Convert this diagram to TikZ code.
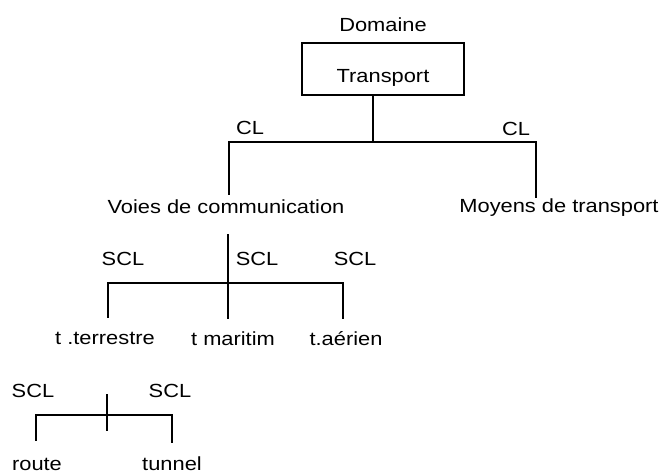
\documentclass[tikz,border=0pt]{standalone}
\usepackage{fontspec}
\setmainfont{Liberation Sans}[FakeStretch=1.15]
\begin{document}
\begin{tikzpicture}[x=1bp,y=-1bp,
  lbl/.style={anchor=base,inner sep=0pt,font=\fontsize{19bp}{22bp}\selectfont},
  link/.style={line width=2bp,line cap=rect}]
\useasboundingbox (0,0) rectangle (665,475);
% top: domain and its framed topic
\node[lbl] (domaine) at (383,32) {Domaine};
\node[draw,line width=2bp,minimum width=162bp,minimum height=52bp,inner sep=0pt] (box) at (383,69) {};
\node[lbl] (transport) at (383,83) {Transport};
% first split (CL)
\coordinate (j1) at (373,142);
\coordinate (c1l) at (229,142);
\coordinate (c1r) at (536,142);
\coordinate (e1l) at (229,194);
\coordinate (e1r) at (536,197);
\draw[link] (box.south -| j1) -- (j1);
\draw[link] (e1l) -- (c1l) -- (c1r) -- (e1r);
\node[lbl] (cl1) at (250,135) {CL};
\node[lbl] (cl2) at (516,136) {CL};
\node[lbl] (voies) at (226,214) {Voies de communication};
\node[lbl] (moyens) at (559,213) {Moyens de transport};
% second split (SCL)
\coordinate (t2) at (228,235);
\coordinate (j2) at (228,283);
\coordinate (c2l) at (108,283);
\coordinate (c2r) at (343,283);
\coordinate (e2l) at (108,317);
\coordinate (e2m) at (228,318);
\coordinate (e2r) at (343,318);
\draw[link] (t2) -- (e2m);
\draw[link] (e2l) -- (c2l) -- (c2r) -- (e2r);
\node[lbl] (scl1) at (123,266) {SCL};
\node[lbl] (scl2) at (257,266) {SCL};
\node[lbl] (scl3) at (355,266) {SCL};
\node[lbl] (terrestre) at (105,344) {t .terrestre};
\node[lbl] (maritim) at (233,345) {t maritim};
\node[lbl] (aerien) at (346,345) {t.aérien};
% third split (SCL)
\coordinate (t3) at (107,395);
\coordinate (b3) at (107,430);
\coordinate (c3l) at (36,415);
\coordinate (c3r) at (172,415);
\coordinate (e3l) at (36,440);
\coordinate (e3r) at (172,442);
\draw[link] (t3) -- (b3);
\draw[link] (e3l) -- (c3l) -- (c3r) -- (e3r);
\node[lbl] (scl4) at (33,397) {SCL};
\node[lbl] (scl5) at (170,397) {SCL};
\node[lbl] (route) at (37,470) {route};
\node[lbl] (tunnel) at (172,470) {tunnel};
\end{tikzpicture}
\end{document}
